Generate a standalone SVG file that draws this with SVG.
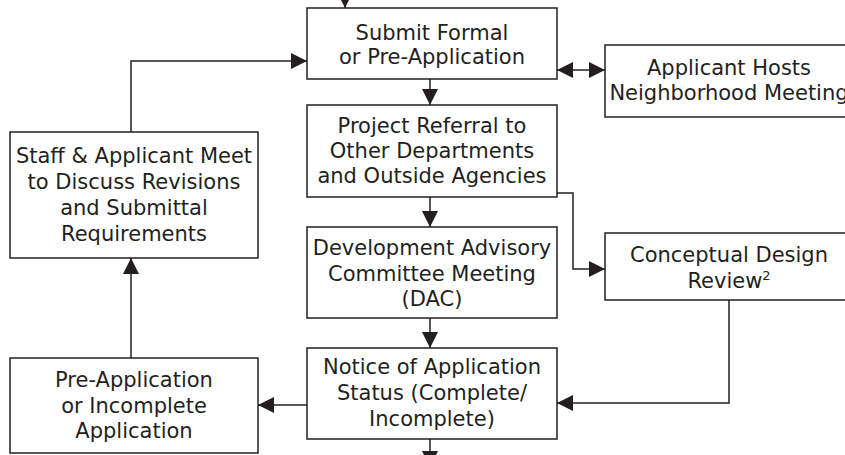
<svg xmlns="http://www.w3.org/2000/svg" width="845" height="455" viewBox="0 0 845 455">
<style>
.box{fill:#fff;stroke:#231f20;stroke-width:1.5}
.t{font-family:"DejaVu Sans",Verdana,sans-serif;font-size:21px;fill:#231f20;text-anchor:middle}
.c{fill:none;stroke:#231f20;stroke-width:1.5}
</style>
<defs>
<marker id="ah" markerUnits="userSpaceOnUse" markerWidth="16" markerHeight="16" viewBox="0 0 14 14" refX="14" refY="7" orient="auto-start-reverse">
<path d="M0,0 L14,7 L0,14 Z" fill="#231f20"/>
</marker>
</defs>
<rect width="845" height="455" fill="#fff"/>
<g id="connectors">
<path class="c" d="M345,-10 V8" marker-end="url(#ah)"/>
<path class="c" d="M430,79 V105" marker-end="url(#ah)"/>
<path class="c" d="M557,70 H605" marker-start="url(#ah)" marker-end="url(#ah)"/>
<path class="c" d="M430,197 V227" marker-end="url(#ah)"/>
<path class="c" d="M557,193 H573 V269 H605" marker-end="url(#ah)"/>
<path class="c" d="M430,318 V348" marker-end="url(#ah)"/>
<path class="c" d="M729,293 V403 H557" marker-end="url(#ah)"/>
<path class="c" d="M307,405 H258" marker-end="url(#ah)"/>
<path class="c" d="M131,358 V258" marker-end="url(#ah)"/>
<path class="c" d="M131,132 V61 H307" marker-end="url(#ah)"/>
<path class="c" d="M430,439 V467" marker-end="url(#ah)"/>
</g>
<g id="submit">
<rect class="box" x="307" y="8" width="250" height="71"/>
<text class="t" x="432" y="40">Submit Formal</text>
<text class="t" x="432" y="64">or Pre-Application</text>
</g>
<g id="neighborhood">
<rect class="box" x="605" y="45" width="250" height="72"/>
<text class="t" x="729" y="75">Applicant Hosts</text>
<text class="t" x="729" y="100">Neighborhood Meeting</text>
</g>
<g id="referral">
<rect class="box" x="307" y="105" width="250" height="92"/>
<text class="t" x="432" y="133">Project Referral to</text>
<text class="t" x="432" y="158">Other Departments</text>
<text class="t" x="432" y="183">and Outside Agencies</text>
</g>
<g id="staff">
<rect class="box" x="10" y="132" width="248" height="126"/>
<text class="t" x="134" y="163">Staff &amp; Applicant Meet</text>
<text class="t" x="134" y="189">to Discuss Revisions</text>
<text class="t" x="134" y="215">and Submittal</text>
<text class="t" x="134" y="241">Requirements</text>
</g>
<g id="dac">
<rect class="box" x="307" y="227" width="250" height="91"/>
<text class="t" x="432" y="255">Development Advisory</text>
<text class="t" x="432" y="281">Committee Meeting</text>
<text class="t" x="432" y="306">(DAC)</text>
</g>
<g id="conceptual">
<rect class="box" x="605" y="233" width="250" height="67"/>
<text class="t" x="729" y="262">Conceptual Design</text>
<text class="t" x="729" y="288">Review<tspan font-size="13" dy="-8">2</tspan></text>
</g>
<g id="notice">
<rect class="box" x="307" y="348" width="250" height="91"/>
<text class="t" x="432" y="374">Notice of Application</text>
<text class="t" x="432" y="400">Status (Complete/</text>
<text class="t" x="432" y="426">Incomplete)</text>
</g>
<g id="preapp">
<rect class="box" x="10" y="358" width="248" height="95"/>
<text class="t" x="134" y="387">Pre-Application</text>
<text class="t" x="134" y="413">or Incomplete</text>
<text class="t" x="134" y="438">Application</text>
</g>
</svg>
